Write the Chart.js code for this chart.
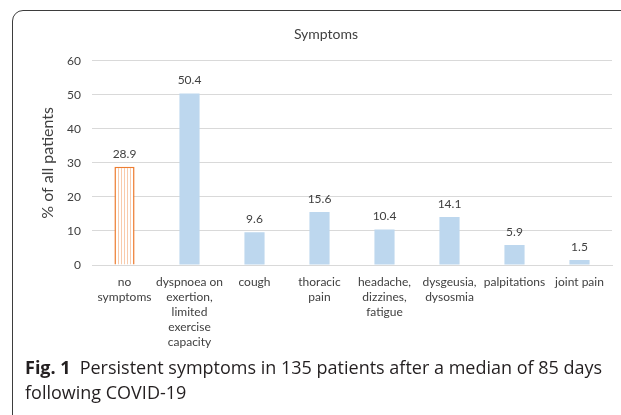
<!DOCTYPE html>
<html>
<head>
<meta charset="utf-8">
<script src="https://cdn.jsdelivr.net/npm/chart.js@4.4.0/dist/chart.umd.min.js"></script>
<style>
  html, body { margin: 0; padding: 0; background: #fff; }
  body { width: 621px; height: 415px; overflow: hidden; position: relative; }
  #frame {
    position: absolute; left: 12px; top: 10px; width: 700px; height: 420px;
    border: 1.5px solid #3d3d3d; border-radius: 11px; box-sizing: border-box;
  }
  #wrap { position: absolute; left: 0; top: 0; width: 621px; height: 360px; }
  #caption {
    position: absolute; left: 25px; top: 355px; width: 596px;
    font-family: "Open Sans", sans-serif; font-size: 18px; line-height: 25px;
    color: #231f20;
  }
  #caption b { font-weight: 700; margin-right: 9px; }
</style>
</head>
<body>
<div id="frame"></div>
<div id="wrap"><canvas id="chartSintomas" width="621" height="360"></canvas></div>
<div id="caption"><b>Fig. 1</b>Persistent symptoms in 135 patients after a median of 85 days following COVID-19</div>
<script>
const categorias = [
  ['no', 'symptoms'],
  ['dyspnoea on', 'exertion,', 'limited', 'exercise', 'capacity'],
  'cough',
  ['thoracic', 'pain'],
  ['headache,', 'dizzines,', 'fatigue'],
  ['dysgeusia,', 'dysosmia'],
  'palpitations',
  'joint pain'
];
const porcentajes = [28.9, 50.4, 9.6, 15.6, 10.4, 14.1, 5.9, 1.5];
const ticksY = [0, 10, 20, 30, 40, 50, 60];

const fuente = 'Lato, "Open Sans", sans-serif';
const gris = '#d9d9d9';

// rayado vertical para la barra de "no symptoms"
function rayado() {
  const c = document.createElement('canvas');
  c.width = 3; c.height = 4;
  const g = c.getContext('2d');
  g.fillStyle = '#ffffff';
  g.fillRect(0, 0, 3, 4);
  g.fillStyle = '#f8cbad';
  g.fillRect(1, 0, 1, 4);
  return g.createPattern(c, 'repeat');
}

const etiquetas = {
  id: 'etiquetas',
  afterDatasetsDraw(chart) {
    const ctx = chart.ctx;
    const meta = chart.getDatasetMeta(0);
    ctx.save();
    ctx.font = '12px ' + fuente;
    ctx.fillStyle = '#404040';
    ctx.textAlign = 'center';
    ctx.textBaseline = 'middle';
    meta.data.forEach((bar, i) => {
      ctx.fillText(porcentajes[i].toFixed(1), bar.x, bar.y - 13);
    });
    ctx.restore();
  }
};

document.addEventListener('DOMContentLoaded', () => {
  const ctx = document.getElementById('chartSintomas').getContext('2d');
  const patron = rayado();
  new Chart(ctx, {
    type: 'bar',
    data: {
      labels: categorias,
      datasets: [{
        data: porcentajes,
        backgroundColor: porcentajes.map((v, i) => i === 0 ? patron : '#bdd7ee'),
        borderColor: porcentajes.map((v, i) => i === 0 ? '#ed7d31' : '#bdd7ee'),
        borderWidth: porcentajes.map((v, i) => i === 0 ? 1.5 : 0),
        categoryPercentage: 1,
        barPercentage: 0.31
      }]
    },
    options: {
      responsive: false,
      animation: false,
      layout: { padding: { left: 40, right: 9, top: 20, bottom: 0 } },
      plugins: {
        legend: { display: false },
        tooltip: { enabled: false },
        title: {
          display: true,
          text: 'Symptoms',
          color: '#404040',
          font: { family: fuente, size: 14, weight: 'normal', lineHeight: 1.2 },
          padding: { top: 6, bottom: 18 }
        }
      },
      scales: {
        x: {
          grid: { display: false, drawTicks: false },
          border: { display: true, color: gris, width: 1 },
          ticks: {
            color: '#404040',
            padding: 10,
            maxRotation: 0,
            autoSkip: false,
            font: { family: fuente, size: 12, lineHeight: '15px' }
          },
          afterFit: (s) => { s.height = 95; }
        },
        y: {
          min: 0,
          max: 60,
          afterBuildTicks: (s) => { s.ticks = ticksY.map(v => ({ value: v })); },
          grid: { color: gris, lineWidth: 1, drawTicks: false },
          border: { display: false },
          ticks: {
            color: '#404040',
            padding: 11,
            font: { family: fuente, size: 12 }
          },
          title: {
            display: true,
            text: '% of all patients',
            color: '#404040',
            font: { family: fuente, size: 16, lineHeight: 1.2 },
            padding: { top: -2, bottom: 0 }
          },
          afterFit: (s) => { s.width = 52; }
        }
      }
    },
    plugins: [etiquetas]
  });
});
</script>
</body>
</html>
